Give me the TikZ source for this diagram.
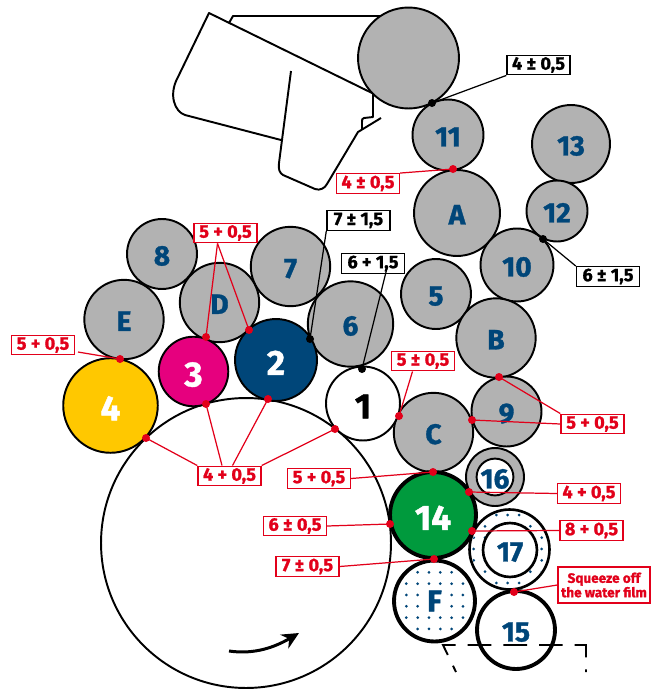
\documentclass[tikz,border=0pt]{standalone}
\usepackage{fontspec}
\setmainfont{Fira Sans}[BoldFeatures={FakeBold=1.2}]
\usetikzlibrary{positioning,calc,arrows.meta}

\definecolor{rollergray}{HTML}{B2B2B2}
\definecolor{rollerblue}{HTML}{004679}
\definecolor{markred}{HTML}{E2001A}
\definecolor{markyellow}{HTML}{FFC800}
\definecolor{markmagenta}{HTML}{E6007E}
\definecolor{markgreen}{HTML}{009A3D}

\tikzset{
	roller/.style={circle,draw=black,line width=1.1pt,fill=rollergray,text=rollerblue,inner sep=0pt,text height=13pt,text depth=0pt,font=\fontsize{16}{16}\bfseries\selectfont,minimum size=#1*0.04cm},
	inkroller/.style={roller=#1,text=white,text height=17pt,font=\fontsize{20}{20}\bfseries\selectfont},
	thickroller/.style={roller=#1,line width=2.2pt,fill=white},
	redgap/.style={draw=markred,fill=white,line width=.8pt,text=markred,inner sep=0pt,font=\fontsize{10.3}{11}\bfseries\selectfont,minimum width=1.26cm,minimum height=.39cm},
	blackgap/.style={redgap,draw=black,text=black},
	redline/.style={draw=markred,line width=.7pt},
	blackline/.style={draw=black,line width=.7pt},
	reddot/.style={fill=markred,radius=4},
	blackdot/.style={fill=black,radius=4},
	platedot/.style={fill=rollerblue,radius=1.5}
}

\begin{document}
\begin{tikzpicture}[x=0.02cm,y=-0.02cm]
	\useasboundingbox (0,0) rectangle (656,690);

	% points where the rollers touch
	\coordinate (k11)   at (432,103);
	\coordinate (kA)    at (453,169);
	\coordinate (k12)   at (543,239);
	\coordinate (k6)    at (310,339);
	\coordinate (k1)    at (362,369);
	\coordinate (kD)    at (206,337);
	\coordinate (kD2)   at (249,330);
	\coordinate (kE)    at (120,359);
	\coordinate (k34)   at (146,438);
	\coordinate (k3)    at (206,404);
	\coordinate (k2)    at (268,399);
	\coordinate (k1b)   at (335,429);
	\coordinate (kC)    at (399,416);
	\coordinate (kB)    at (499,377);
	\coordinate (k9)    at (472,420);
	\coordinate (kCb)   at (433,472);
	\coordinate (k16)   at (469,492);
	\coordinate (k17)   at (472,531);
	\coordinate (k14l)  at (390,524);
	\coordinate (kF)    at (434,559);
	\coordinate (k15)   at (514,592);

	% feeder
	\draw[line width=1.1pt,line join=round] (229,23) -- (233,16) -- (382,16);
	\draw[line width=1.1pt,line join=round] (281,140) -- (185,115) .. controls (175,112) and (168,95) .. (178,77) -- (209,13) -- (372,93);
	\draw[line width=1.1pt,line join=round] (291,71) -- (279,163) .. controls (278,170) and (280,173) .. (283,175) -- (315,189) .. controls (320,191) and (325,188) .. (327,184) -- (358,132) -- (381,118);
	\draw[line width=1.1pt,line join=round] (373,93) -- (373,117) -- (364,118) .. controls (362,118) and (362,120) .. (362,122) -- (362,129);

	% impression cylinder
	\node[circle,draw=black,line width=1.1pt,inner sep=0pt,minimum size=5.8cm] (cyl) at (246,543) {};
	\coordinate (cylA) at (229,651);
	\coordinate (cylB) at (299,633);
	\draw[-{Stealth[length=.34cm,width=.32cm]},line width=1.7pt] (cylA) .. controls (250,654) and (270,650) .. (cylB);

	% rollers
	\node[roller=50.5] (top) at (408.5,58) {};
	\node[roller=35.5] (r11) at (448,135) {11};
	\node[roller=39]   (r13) at (571,144) {13};
	\node[roller=43]   (rA)  at (457,213) {A};
	\node[roller=30.5] (r12) at (557,211) {12};
	\node[roller=36.5] (r10) at (517,265) {10};
	\node[roller=35]   (r8)  at (162,254) {8};
	\node[roller=39.7] (r7)  at (290.5,266.5) {7};
	\node[roller=39.7] (rD)  at (219.5,302.5) {D};
	\node[roller=39.7] (rE)  at (124,319.5) {E};
	\node[roller=42.7] (r6)  at (350.5,324) {6};
	\node[roller=35]   (r5)  at (436,294) {5};
	\node[roller=39.7] (rB)  at (496,338) {B};
	\node[roller=35]   (r9)  at (506.5,411.5) {9};
	\node[roller=39.7] (rC)  at (433.5,432.5) {C};
	\node[roller=29]   (r16) at (495,477) {};
	\node[roller=17,fill=white] (r16in) at (r16) {16};

	\node[inkroller=47.3,fill=markyellow]  (r4)  at (110.5,405.5) {4};
	\node[inkroller=34.8,fill=markmagenta] (r3)  at (193.5,371.5) {3};
	\node[inkroller=41,fill=rollerblue]    (r2)  at (276,360) {2};
	\node[inkroller=37,fill=white,text=black] (r1) at (363,403.5) {1};
	\node[inkroller=43,fill=markgreen,line width=2.2pt] (r14) at (433,515) {14};

	% dotted plates
	\node[thickroller=40.5] (rF) at (434.5,601) {};
	\begin{scope}
		\clip (rF) circle (37.5);
		\foreach \i in {0,...,5}
			\foreach \j in {0,...,5}
				\fill[platedot] (406.3+11.33*\i,572.3+11.33*\j) circle;
	\end{scope}
	\node[text=rollerblue,fill=white,inner sep=0pt,minimum width=.46cm,minimum height=.46cm,font=\fontsize{17}{17}\bfseries\selectfont] (lF) at (rF) {F};

	\node[thickroller=40,line width=1.5pt] (r17) at (509.5,549.5) {};
	\begin{scope}
		\clip (r17) circle (38);
		\foreach \i in {0,...,6}
			\foreach \j in {0,...,6}
				\fill[platedot] (473.7+11.33*\i,515+11.33*\j) circle;
	\end{scope}
	\node[roller=27,line width=1.5pt,fill=white] (r17in) at (510,550) {17};

	\node[thickroller=39] (r15) at (516,630) {15};

	% delivery
	\coordinate (d1) at (456,672);
	\coordinate (d2) at (443,645);
	\coordinate (d3) at (586,645);
	\coordinate (d4) at (586,672);
	\draw[line width=1.1pt,dash pattern=on 13.5pt off 6.8pt,dash phase=9.5pt] (d1) -- (d2) -- (d3) -- (d4);

	% gap labels
	\node[blackgap] (gapTop) at (538.5,65)  {4 ± 0,5};
	\node[redgap]   (gapA)   at (368,183.5) {4 ± 0,5};
	\node[blackgap] (gap6)   at (358.5,220.5) {7 ± 1,5};
	\node[redgap]   (gapD)   at (225.5,233) {5 + 0,5};
	\node[blackgap] (gap1)   at (373,263.5) {6 + 1,5};
	\node[blackgap] (gap12)  at (608,276.5) {6 ± 1,5};
	\node[redgap]   (gapE)   at (43,345)    {5 + 0,5};
	\node[redgap]   (gapC)   at (423,361)   {5 ± 0,5};
	\node[redgap]   (gap9)   at (592.5,424) {5 + 0,5};
	\node[redgap]   (gapCyl) at (229.5,476) {4 + 0,5};
	\node[redgap]   (gapCb)  at (319,478.5) {5 + 0,5};
	\node[redgap]   (gap16)  at (589,493.5) {4 + 0,5};
	\node[redgap]   (gap14)  at (295,526)   {6 ± 0,5};
	\node[redgap]   (gap17)  at (591.5,530.5) {8 + 0,5};
	\node[redgap]   (gapF)   at (307.5,566.5) {7 ± 0,5};
	\node[redgap,align=center,font=\fontsize{7.7}{8.2}\bfseries\selectfont,minimum width=1.84cm,minimum height=.72cm] (gap15) at (604,585) {Squeeze off\\the water film};

	% connectors
	\coordinate (g1in) at (387,268);
	\coordinate (gEout) at (78,352);
	\draw[blackline] (gapTop.south west) -- (k11);
	\draw[blackline] (gap6.south west) -- (k6);
	\draw[blackline] (g1in) -- (k1);
	\draw[blackline] (gap12.north west) -- (k12);
	\draw[redline] (gapA.north east) -- (kA);
	\draw[redline] ([xshift=-.16cm]gapD.south) -- (kD);
	\draw[redline] ([xshift=-.16cm]gapD.south) -- (kD2);
	\draw[redline] (gEout) -- (kE);
	\draw[redline] ([xshift=-.21cm]gapC.south) -- (kC);
	\draw[redline] (gap9.north west) -- (kB);
	\draw[redline] (gap9.west) -- (k9);
	\draw[redline] (gapCyl.north west) -- (k34);
	\draw[redline] ([xshift=-.15cm]gapCyl.north) -- (k3);
	\draw[redline] ([xshift=.06cm]gapCyl.north) -- (k2);
	\draw[redline] (gapCyl.north east) -- (k1b);
	\draw[redline] (gapCb.east) -- (kCb);
	\draw[redline] (gap14.east) -- (k14l);
	\draw[redline] (gapF.east) -- (kF);
	\draw[redline] (gap16.west) -- (k16);
	\draw[redline] (gap17.west) -- (k17);
	\draw[redline] (gap15.west) -- (k15);

	% dots
	\foreach \p in {k11,k12,k6,k1}
		\fill[blackdot] (\p) circle;
	\foreach \p in {kA,kD,kD2,kE,k34,k3,k2,k1b,kC,kB,k9,kCb,k16,k17,k14l,kF,k15}
		\fill[reddot] (\p) circle;
\end{tikzpicture}
\end{document}
